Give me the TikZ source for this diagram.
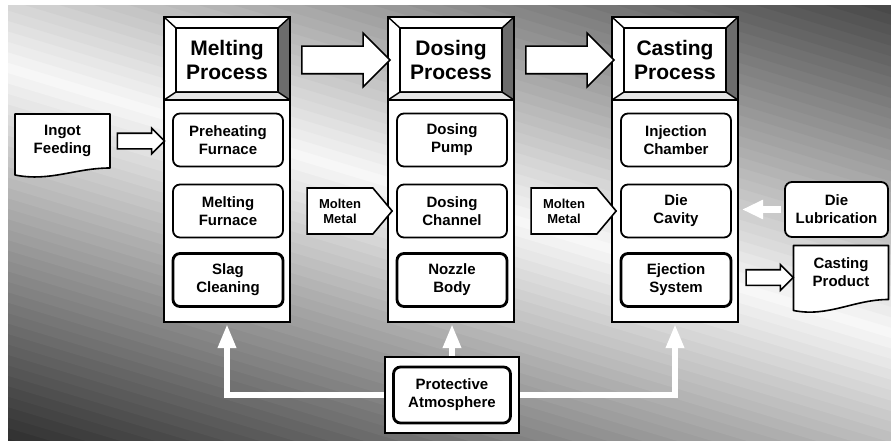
\documentclass[tikz,border=0pt]{standalone}
\usepackage{fontspec}
\setmainfont{Liberation Sans}
\usepackage{tikz}
\usetikzlibrary{calc, positioning, arrows.meta, shapes.arrows, shapes.symbols}
\pgfdeclarelayer{backdrop}
\pgfdeclarelayer{background}
\pgfsetlayers{backdrop,background,main}
\tikzset{
	line width = 1.6pt,
	colbox/.style={
		draw,
		fill=white,
		line width=2.6pt,
		outer sep=0pt,
		inner sep=0pt,
		minimum width=126pt,
		minimum height=305pt
	},
	headbox/.style={
		draw,
		fill=white,
		line width=1.6pt,
		outer sep=0pt,
		minimum width=102pt,
		minimum height=64pt,
		align=center,
		font=\fontsize{21}{24}\selectfont\bfseries
	},
	subbox/.style={
		draw,
		fill=white,
		rounded corners=7pt,
		line width=1.8pt,
		minimum width=110pt,
		minimum height=53pt,
		align=center,
		font=\fontsize{15}{18}\selectfont\bfseries
	},
	thick subbox/.style={
		subbox,
		line width=2.8pt
	},
	doclabel/.style={
		minimum width=95pt,
		minimum height=54pt,
		inner sep=0pt,
		outer sep=0pt,
		align=center,
		font=\fontsize{15}{18}\selectfont\bfseries
	},
	docframe/.style={
		draw,
		fill=white,
		line width=1.6pt,
		line join=round
	},
	blockarrow/.style={
		single arrow,
		draw,
		fill=white,
		line width=1.6pt,
		inner xsep=0pt,
		inner ysep=13pt,
		outer sep=0pt,
		single arrow head extend=13pt,
		minimum height=88pt,
		minimum width=52pt
	},
	small arrow/.style={
		blockarrow,
		inner ysep=7pt,
		single arrow head extend=5pt,
		minimum height=47pt,
		minimum width=24pt
	},
	metal/.style={
		signal,
		signal to=east,
		signal pointer angle=100,
		draw,
		fill=white,
		line width=1.6pt,
		minimum width=85pt,
		minimum height=46pt,
		inner sep=1pt,
		align=center,
		font=\fontsize{13}{15}\selectfont\bfseries
	},
	gas/.style={
		draw=white,
		line width=6.5pt,
		-{Triangle[length=24pt, width=17pt]}
	}
}

\begin{document}
\begin{tikzpicture}[x=1pt, y=1pt]
\useasboundingbox (0,0) rectangle (891,440);

% ---
% Backdrop
% ---
\begin{pgfonlayer}{backdrop}
	\fill[white] (0,0) rectangle (891,440);
	\begin{scope}
		\clip (8,0) rectangle (891,434);
		\foreach \k in {-45,...,45} {
			\pgfmathsetmacro{\shadeamt}{min(82, 3 + 0.22*abs(\k*10))}
			\fill[black!\shadeamt, rotate around={-16.7:(450,240)}]
				(-400,240+\k*10-5.5) rectangle (1300,240+\k*10+5.5);
		}
	\end{scope}
\end{pgfonlayer}

% ---
% Process columns
% ---
\foreach \i/\xo/\hd/\sa/\sb/\sc in {
	1/164/{Melting\\Process}/{Preheating\\Furnace}/{Melting\\Furnace}/{Slag\\Cleaning},
	2/388/{Dosing\\Process}/{Dosing\\Pump}/{Dosing\\Channel}/{Nozzle\\Body},
	3/612/{Casting\\Process}/{Injection\\Chamber}/{Die\\Cavity}/{Ejection\\System}} {
	\node[colbox, anchor=north west] (col\i) at (\xo,423) {};
	\coordinate (bw\i) at ($(col\i.north west)+(0,-83)$);
	\coordinate (be\i) at ($(col\i.north east)+(0,-83)$);
	\node[headbox] (hd\i) at ($(col\i.north)+(0,-43)$) {\hd};
	\fill[gray!85!black] (col\i.north east) -- (be\i) -- (hd\i.south east) -- (hd\i.north east) -- cycle;
	\fill[gray!20] (bw\i) -- (be\i) -- (hd\i.south east) -- (hd\i.south west) -- cycle;
	\draw[line width=1.4pt] (col\i.north west) -- (hd\i.north west)
		(col\i.north east) -- (hd\i.north east)
		(bw\i) -- (hd\i.south west)
		(be\i) -- (hd\i.south east);
	\draw (hd\i.north west) rectangle (hd\i.south east);
	\draw[line width=2.6pt] (col\i.north west) rectangle (be\i);
	\node[subbox] (s\i1) at (\xo+64,300) {\sa};
	\node[subbox] (s\i2) at (\xo+64,229) {\sb};
	\node[thick subbox] (s\i3) at (\xo+64,160) {\sc};
}

% ---
% Flow between the columns
% ---
\node[blockarrow] (go12) at ($(hd1.east)!.5!(hd2.west)$) {};
\node[blockarrow] (go23) at ($(hd2.east)!.5!(hd3.west)$) {};
\node[metal] (melt12) at ($(s12.east)!.5!(s22.west)$) {Molten\\Metal};
\node[metal] (melt23) at ($(s22.east)!.5!(s32.west)$) {Molten\\Metal};

% ---
% Inputs and outputs
% ---
\node[doclabel] (ingot) at (62.5,299) {Ingot\\Feeding};
\node[doclabel] (prod) at (841,167.5) {Casting\\Product};
\begin{pgfonlayer}{background}
	\draw[docframe] (ingot.north west) -- (ingot.north east) -- (ingot.south east)
		.. controls +(-35,0) and +(35,-7) .. ($(ingot.south west)+(0,-7)$) -- cycle;
	\draw[docframe] (prod.north west) -- (prod.north east) -- (prod.south east)
		.. controls +(-35,0) and +(35,-7) .. ($(prod.south west)+(0,-11)$) -- cycle;
\end{pgfonlayer}
\node[small arrow] (feed) at ($(ingot.east)!.5!(ingot.east -| col1.west)$) {};
\node[small arrow, yshift=-5pt] (eject) at ($(prod.west -| col3.east)!.5!(prod.west)$) {};

\node[subbox, minimum width=103pt, minimum height=55pt] (lube) at (836.5,230.5) {Die\\Lubrication};
\draw[gas, line width=7pt, -{Triangle[length=21pt, width=18pt]}, shorten <=3pt, shorten >=4pt]
	(lube.west) -- (lube.west -| col3.east);

% ---
% Protective atmosphere
% ---
\node[draw, fill=white, line width=2.6pt, minimum width=134pt, minimum height=76pt] (prot) at (452,45) {};
\node[thick subbox, minimum width=117pt, minimum height=56pt] (protin) at (prot.center) {Protective\\Atmosphere};
\draw[gas, shorten >=2pt] (prot.west) -| (col1.south);
\draw[gas, shorten >=2pt] (prot.north) -- (prot.north |- col2.south);
\draw[gas, shorten >=2pt] (prot.east) -| (col3.south);
\end{tikzpicture}
\end{document}
